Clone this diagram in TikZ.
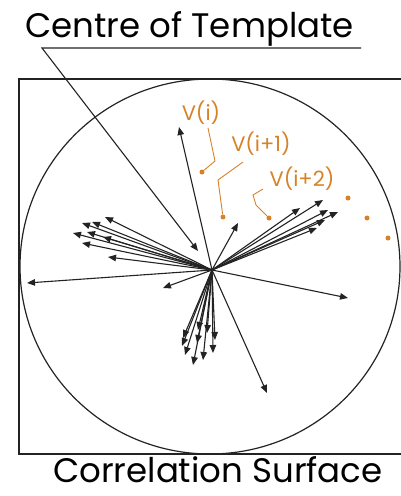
\documentclass[tikz,border=0pt]{standalone}
\usepackage{fontspec}
\setmainfont{Poppins}
\usetikzlibrary{arrows.meta}
\definecolor{vorange}{RGB}{214,130,40}
\definecolor{vdark}{RGB}{35,35,35}
\tikzset{
  vec/.style={-{Triangle[length=8pt,width=6.5pt]}, line width=1.1pt, color=vdark},
  lead/.style={line width=0.9pt, color=vorange},
  title/.style={font=\fontsize{34}{38}\selectfont, inner sep=0pt, text depth=0pt, anchor=base west},
  vlbl/.style={font=\fontsize{21}{23}\selectfont, text=vorange, inner sep=0pt},
  tipdot/.style={circle, fill=vorange, inner sep=0pt, minimum size=5pt}
}

\begin{document}
\begin{tikzpicture}[x=1pt, y=-1pt]
  \useasboundingbox (0,0) rectangle (401,496);

  % frame and correlation surface
  \draw[line width=1.2pt, color=vdark] (401,79) -- (19,79) -- (19,454) -- (401,454);
  \draw[line width=1.2pt, color=vdark] (210,266.5) ellipse [x radius=190, y radius=187.5];

  \node[title] (tmpl) at (25,37) {Centre of Template};
  \node[title] (surf) at (53,482) {Correlation Surface};

  \coordinate (c) at (212,270);
  \coordinate (ulr) at (361,48);
  \coordinate (ull) at (42,48);
  \coordinate (ptr) at (198,251);
  \draw[vec] (ulr) -- (ull) -- (ptr);

  % single vectors
  \foreach \p in {(179,127),(238,223),(348,298),(27,283),(163,288),(267,393)}
    \draw[vec] (c) -- \p;
  % upper right bundle
  \foreach \p in {(323,200),(300,208),(328,210),(338,212),(325,220),(317,228)}
    \draw[vec] (c) -- \p;
  % upper left bundle
  \foreach \p in {(105,217),(82,223),(92,222),(73,233),(87,232),(103,237),(82,243),(108,257)}
    \draw[vec] (c) -- \p;
  % lower bundle
  \foreach \p in {(183,338),(182,346),(185,355),(198,330),(197,343),(193,365),(203,360),(207,333),(215,340),(213,353)}
    \draw[vec] (c) -- \p;

  % labels of the sequence
  \node[vlbl] (vi) at (201,113) {V(i)};
  \node[vlbl] (vi1) at (261,144) {V(i+1)};
  \node[vlbl] (vi2) at (302,179) {V(i+2)};

  \node[tipdot] (d0) at (202,172) {};
  \node[tipdot] (d1) at (223,217) {};
  \node[tipdot] (d2) at (269,218) {};
  \node[tipdot] (d3) at (348,198) {};
  \node[tipdot] (d4) at (367,218) {};
  \node[tipdot] (d5) at (388,238) {};

  \coordinate (l0) at (208,128);
  \coordinate (l1) at (243,162);
  \coordinate (l2) at (263,189);
  \draw[lead] (l0) -- (215,161) -- (d0);
  \draw[lead] (l1) -- (218,180) -- (d1);
  \draw[lead] (l2) -- (253,195) -- (256,205) -- (d2);
\end{tikzpicture}
\end{document}
